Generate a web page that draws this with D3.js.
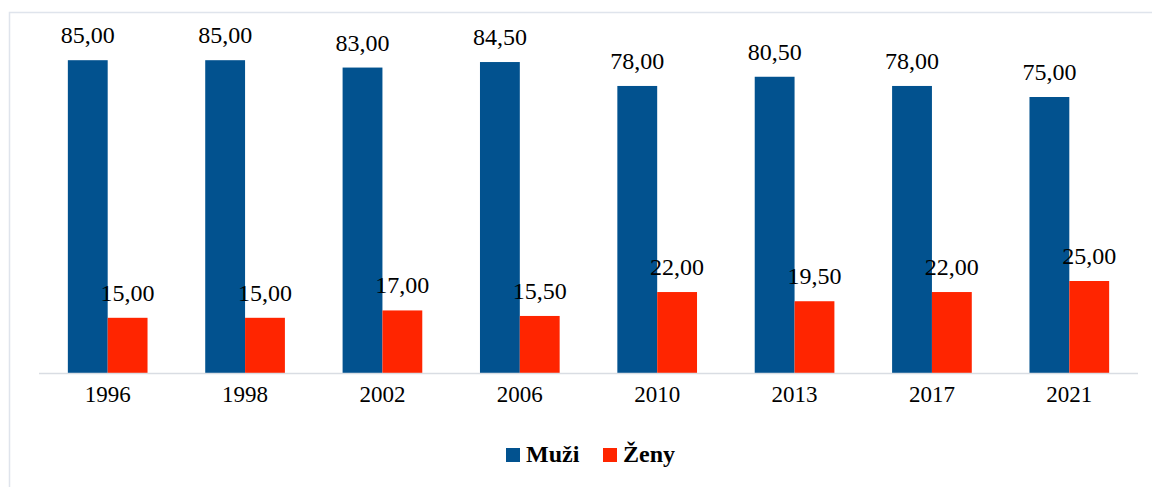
<!DOCTYPE html>
<html>
<head>
<meta charset="utf-8">
<script src="https://cdn.jsdelivr.net/npm/d3@7"></script>
<style>
  body { margin: 0; background: #fff; }
  svg { display: block; }
  svg text { font-family: "Liberation Serif", serif; }
</style>
</head>
<body>
<div id="graph"></div>
<script>
var years = ["1996", "1998", "2002", "2006", "2010", "2013", "2017", "2021"];
var muzi = [85.0, 85.0, 83.0, 84.5, 78.0, 80.5, 78.0, 75.0];
var zeny = [15.0, 15.0, 17.0, 15.5, 22.0, 19.5, 22.0, 25.0];
var seriesNames = ["Muži", "Ženy"];
var seriesColors = ["#02528f", "#ff2500"];

var w = 1152, h = 487;
var fontFam = "Liberation Serif";

var svg = d3.select('#graph')
  .append('svg')
  .attr("width", w)
  .attr("height", h)
  .style("background", "#fff");

// frame (only top/left visible in the picture)
svg.append("rect")
  .attr("x", 9.5).attr("y", 12.5)
  .attr("width", w + 10).attr("height", h + 10)
  .attr("fill", "none")
  .attr("stroke", "#dfe4ec")
  .attr("stroke-width", 1.5);

var left = 39, right = 1138, base = 373;

var x = d3.scaleBand()
  .domain(years)
  .range([left, right])
  .paddingInner(0.42)
  .paddingOuter(0.21);

var inner = d3.scaleBand()
  .domain([0, 1])
  .range([0, x.bandwidth()]);

var y = d3.scaleLinear()
  .domain([0, 100])
  .range([base, base - 368]);

var rows = years.map((yr, i) => ({ year: yr, vals: [muzi[i], zeny[i]] }));

var groups = svg.append("g").selectAll("g")
  .data(rows)
  .enter()
  .append("g")
  .attr("transform", d => "translate(" + x(d.year) + ",0)");

groups.selectAll("rect")
  .data(d => d.vals.map((v, k) => ({ k: k, v: v })))
  .enter()
  .append("rect")
  .attr("x", d => inner(d.k))
  .attr("y", d => y(d.v))
  .attr("width", inner.bandwidth())
  .attr("height", d => base - y(d.v))
  .attr("fill", d => seriesColors[d.k]);

groups.selectAll("text")
  .data(d => d.vals.map((v, k) => ({ k: k, v: v })))
  .enter()
  .append("text")
  .attr("x", d => inner(d.k) + inner.bandwidth() / 2)
  .attr("y", d => y(d.v) - 17)
  .attr("text-anchor", "middle")
  .attr("font-family", fontFam)
  .attr("font-size", 24)
  .attr("fill", "#000")
  .text(d => d.v.toFixed(2).replace(".", ","));

// axis line
svg.append("line")
  .attr("x1", left).attr("x2", right)
  .attr("y1", base + 0.5).attr("y2", base + 0.5)
  .attr("stroke", "#d9dde3")
  .attr("stroke-width", 1.5);

var xAxis = svg.append("g")
  .attr("transform", "translate(0," + base + ")")
  .attr("font-family", fontFam)
  .attr("font-size", 23)
  .call(d3.axisBottom(x).tickSize(0).tickPadding(13));
xAxis.select(".domain").remove();
xAxis.attr("font-family", fontFam).attr("font-size", 23);
xAxis.selectAll("text").attr("fill", "#000");

// legend
var legX = [506, 603];
var leg = svg.append("g").selectAll("g")
  .data(seriesNames)
  .enter()
  .append("g")
  .attr("transform", (d, i) => "translate(" + legX[i] + ",448)");
leg.append("rect")
  .attr("width", 14).attr("height", 14)
  .attr("fill", (d, i) => seriesColors[i]);
leg.append("text")
  .attr("x", 20).attr("y", 14)
  .attr("font-family", fontFam)
  .attr("font-size", 24)
  .attr("font-weight", "bold")
  .attr("fill", "#000")
  .text(d => d);
</script>
</body>
</html>
